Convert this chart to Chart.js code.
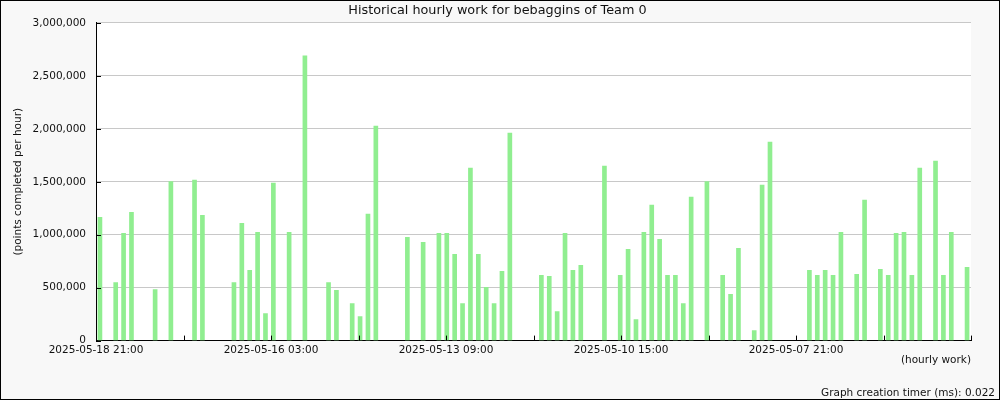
<!DOCTYPE html>
<html>
<head>
<meta charset="utf-8">
<script src="https://cdn.jsdelivr.net/npm/chart.js@4"></script>
<style>
  html, body { margin: 0; padding: 0; background: #f8f8f8; }
  canvas { display: block; }
</style>
</head>
<body>
<canvas id="chart" width="1000" height="400"></canvas>
<script>
// Nilai per slot (3 jam), dari kiri (terbaru) ke kanan; 0 = tidak ada kerja
const workValues = [
    1165000, 0, 549000, 1013000, 1212000, 0, 0, 483000, 0, 1503000,
    0, 0, 1515000, 1184000, 0, 0, 0, 549000, 1108000, 663000,
    1023000, 256000, 1487000, 0, 1023000, 0, 2690000, 0, 0, 549000,
    474000, 0, 350000, 227000, 1194000, 2027000, 0, 0, 0, 976000,
    0, 928000, 0, 1013000, 1013000, 815000, 350000, 1629000, 815000, 502000,
    350000, 654000, 1961000, 0, 0, 0, 616000, 606000, 275000, 1013000,
    663000, 710000, 0, 0, 1648000, 0, 616000, 862000, 199000, 1023000,
    1279000, 957000, 616000, 616000, 350000, 1355000, 0, 1503000, 0, 616000,
    436000, 871000, 0, 95000, 1468000, 1876000, 0, 0, 0, 0,
    663000, 616000, 663000, 616000, 1023000, 0, 625000, 1326000, 0, 673000,
    616000, 1013000, 1023000, 616000, 1629000, 0, 1696000, 616000, 1023000, 0,
    692000
];

// Label sumbu x (tiap dua tick)
const xTickLabels = [
    '2025-05-18 21:00',
    '2025-05-16 03:00',
    '2025-05-13 09:00',
    '2025-05-10 15:00',
    '2025-05-07 21:00'
];

const yMax = 3000000;
const yStep = 500000;
const xTickCount = 10;

const chartTitle = 'Historical hourly work for bebaggins of Team 0';
const yTitle = '(points completed per hour)';
const xTitle = '(hourly work)';
const footerText = 'Graph creation timer (ms): 0.022';

Chart.defaults.font.family = '"DejaVu Sans", sans-serif';
Chart.defaults.color = '#111';

const slotCount = workValues.length;

// Background, border dan tick ke dalam
const framePlugin = {
    id: 'frame',
    beforeDraw(chart) {
        const ctx = chart.ctx;
        const area = chart.chartArea;
        ctx.save();
        ctx.fillStyle = '#f8f8f8';
        ctx.fillRect(0, 0, chart.width, chart.height);
        ctx.fillStyle = '#ffffff';
        ctx.fillRect(area.left, area.top, area.right - area.left, area.bottom - area.top);
        ctx.restore();
    },
    afterDraw(chart) {
        const ctx = chart.ctx;
        const area = chart.chartArea;
        const xs = chart.scales.x;
        const ys = chart.scales.y;
        ctx.save();
        ctx.strokeStyle = '#000';
        ctx.lineWidth = 1;
        ctx.beginPath();
        ys.ticks.forEach(t => {
            const py = Math.round(ys.getPixelForValue(t.value)) + 0.5;
            ctx.moveTo(area.left, py);
            ctx.lineTo(area.left + 5, py);
        });
        xs.ticks.forEach(t => {
            const px = Math.round(xs.getPixelForValue(t.value)) + 0.5;
            ctx.moveTo(px, area.bottom);
            ctx.lineTo(px, area.bottom - 5);
        });
        ctx.stroke();
        ctx.strokeRect(0.5, 0.5, chart.width - 1, chart.height - 1);
        ctx.restore();
    }
};

const ctx = document.getElementById('chart').getContext('2d');

new Chart(ctx, {
    type: 'bar',
    data: {
        datasets: [{
            data: workValues.map((v, i) => ({ x: i + 0.5, y: v > 0 ? v : null })),
            backgroundColor: '#90ee90',
            borderWidth: 0,
            barThickness: 4
        }]
    },
    options: {
        responsive: false,
        animation: false,
        layout: { padding: { left: 0, right: 5, top: 0, bottom: 0 } },
        plugins: {
            legend: { display: false },
            tooltip: { enabled: false },
            title: {
                display: true,
                text: chartTitle,
                font: { size: 12.8, weight: 'normal' },
                padding: { top: 3, bottom: 4.6 }
            },
            subtitle: {
                display: true,
                text: footerText,
                position: 'bottom',
                align: 'end',
                font: { size: 10.5 },
                padding: { top: 4, bottom: 0.4 }
            }
        },
        scales: {
            x: {
                type: 'linear',
                min: 0,
                max: slotCount,
                offset: false,
                afterBuildTicks: scale => {
                    const ticks = [];
                    for (let k = 0; k <= xTickCount; k++) {
                        ticks.push({ value: slotCount * k / xTickCount });
                    }
                    scale.ticks = ticks;
                },
                afterFit: scale => { scale.height = 42.4; },
                grid: { display: false, drawTicks: false },
                border: { display: true, color: '#000' },
                ticks: {
                    autoSkip: false,
                    maxRotation: 0,
                    padding: 3,
                    font: { size: 10.5 },
                    callback: (value, index) => {
                        if (index % 2 !== 0) return '';
                        return xTickLabels[index / 2] || '';
                    }
                },
                title: {
                    display: true,
                    text: xTitle,
                    align: 'end',
                    font: { size: 10.5 },
                    padding: { top: 0, bottom: 16.5 }
                }
            },
            y: {
                min: 0,
                max: yMax,
                afterFit: scale => { scale.width = 96; },
                grid: { color: '#c8c8c8', drawTicks: false },
                border: { display: true, color: '#000' },
                ticks: {
                    stepSize: yStep,
                    padding: 10,
                    font: { size: 10.5 },
                    callback: value => value.toLocaleString('en-US')
                },
                title: {
                    display: true,
                    text: yTitle,
                    font: { size: 10.5 },
                    padding: { top: 12, bottom: 0 }
                }
            },
            yRight: {
                position: 'right',
                display: true,
                afterFit: scale => { scale.width = 24; },
                grid: { display: false, drawTicks: false },
                border: { display: false },
                ticks: { display: false }
            }
        }
    },
    plugins: [framePlugin]
});
</script>
</body>
</html>
